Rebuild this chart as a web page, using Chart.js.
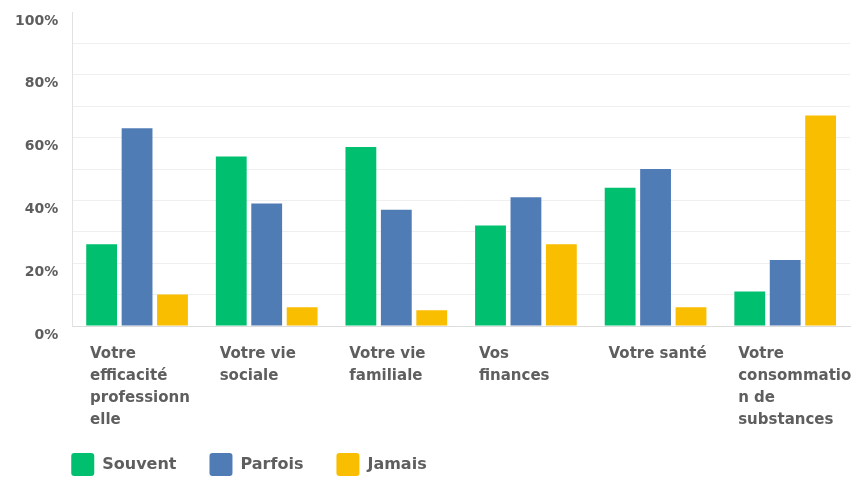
<!DOCTYPE html>
<html>
<head>
<meta charset="utf-8">
<script src="https://cdn.jsdelivr.net/npm/chart.js@4.4.1/dist/chart.umd.min.js"></script>
<style>
  html, body { margin: 0; padding: 0; background: #fff; }
  #wrap { width: 854px; height: 477px; position: relative; }
</style>
</head>
<body>
<div id="wrap"><canvas id="chart"></canvas></div>
<script>
// Catégories (retours à la ligne comme dans l'original)
const categories = [
    ['Votre', 'efficacité', 'professionn', 'elle'],
    ['Votre vie', 'sociale'],
    ['Votre vie', 'familiale'],
    ['Vos', 'finances'],
    ['Votre santé'],
    ['Votre', 'consommatio', 'n de', 'substances']
];
const seriesNames = ['Souvent', 'Parfois', 'Jamais'];
const souvent = [26, 54, 57, 32, 44, 11];
const parfois = [63, 39, 37, 41, 50, 21];
const jamais = [10, 6, 5, 26, 6, 67];
const yTicks = [0, 20, 40, 60, 80, 100];

const colors = ['#00BF6F', '#507CB6', '#F9BE00'];
const textColor = '#5e5e5e';
const fontFamily = '"DejaVu Sans", sans-serif';

// Décale la légende pour l'aligner sur l'axe et la coller aux libellés
const legendNudge = {
    id: 'legendNudge',
    afterLayout(chart) {
        const lg = chart.legend;
        const pad = lg.options.labels.padding;
        lg.left = chart.chartArea.left - pad - 1;
        lg.top -= pad - 5;
    }
};

const ctx = document.getElementById('chart').getContext('2d');
const chart = new Chart(ctx, {
    type: 'bar',
    data: {
        labels: categories,
        datasets: [souvent, parfois, jamais].map((values, i) => ({
            label: seriesNames[i],
            data: values,
            backgroundColor: colors[i],
            borderWidth: 0,
            categoryPercentage: 0.82,
            barPercentage: 0.87
        }))
    },
    options: {
        responsive: true,
        maintainAspectRatio: false,
        animation: false,
        layout: {
            padding: { top: 12, right: 4, bottom: 0, left: 1 }
        },
        plugins: {
            tooltip: { enabled: false },
            legend: {
                position: 'bottom',
                align: 'start',
                maxHeight: 29,
                labels: {
                    boxWidth: 23,
                    boxHeight: 23,
                    padding: 33,
                    useBorderRadius: true,
                    borderRadius: 3,
                    color: textColor,
                    font: { family: fontFamily, size: 16, weight: 'bold' }
                }
            }
        },
        scales: {
            x: {
                grid: { display: false, drawTicks: false, tickLength: 0 },
                border: { color: '#dcdcdc', width: 1 },
                ticks: {
                    color: textColor,
                    align: 'start',
                    labelOffset: -47,
                    padding: 17,
                    maxRotation: 0,
                    autoSkip: false,
                    font: { family: fontFamily, size: 15, weight: 'bold', lineHeight: '22px' }
                },
                // les libellés débordent à droite comme dans l'original
                afterFit(scale) {
                    scale.paddingLeft = 0;
                    scale.paddingRight = 0;
                }
            },
            y: {
                min: 0,
                max: 100,
                grid: {
                    drawTicks: false,
                    tickLength: 0,
                    color: c => (c.tick && c.tick.value === 100) ? 'rgba(0,0,0,0)' : '#efefef'
                },
                border: { color: '#e2e2e2', width: 1 },
                ticks: {
                    stepSize: 10,
                    padding: 14,
                    labelOffset: 9,
                    color: textColor,
                    font: { family: fontFamily, size: 14, weight: 'bold' },
                    callback: v => yTicks.includes(v) ? v + '%' : ''
                },
                afterFit(scale) {
                    scale.paddingTop = 0;
                    scale.paddingBottom = 0;
                }
            }
        }
    },
    plugins: [legendNudge]
});
</script>
</body>
</html>
